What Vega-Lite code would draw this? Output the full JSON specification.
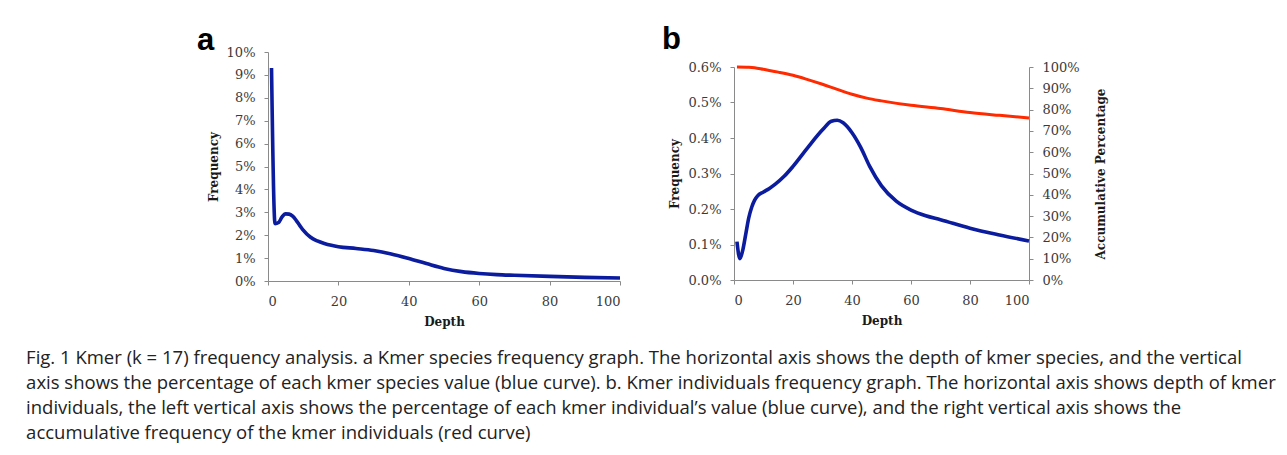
{
  "$schema": "https://vega.github.io/schema/vega-lite/v6.json",
  "background": "white",
  "padding": {"left": 26, "top": 24, "right": 5, "bottom": 5},
  "config": {
    "view": {"stroke": null},
    "axis": {
      "grid": false,
      "domainColor": "#8a8a8a",
      "tickColor": "#8a8a8a",
      "tickSize": 4,
      "labelFont": "DejaVu Serif",
      "labelFontSize": 13,
      "labelColor": "#3a3a3a",
      "titleFont": "DejaVu Serif",
      "titleFontSize": 12,
      "titleFontWeight": "bold",
      "titleColor": "#1a1a1a"
    }
  },
  "title": {
    "text": [
      "Fig. 1 Kmer (k = 17) frequency analysis. a Kmer species frequency graph. The horizontal axis shows the depth of kmer species, and the vertical",
      "axis shows the percentage of each kmer species value (blue curve). b. Kmer individuals frequency graph. The horizontal axis shows depth of kmer",
      "individuals, the left vertical axis shows the percentage of each kmer individual’s value (blue curve), and the right vertical axis shows the",
      "accumulative frequency of the kmer individuals (red curve)"
    ],
    "orient": "bottom",
    "anchor": "start",
    "frame": "bounds",
    "font": "Open Sans",
    "fontSize": 18.5,
    "fontWeight": "normal",
    "lineHeight": 25,
    "color": "#222222",
    "dx": -171,
    "offset": 22
  },
  "spacing": 34,
  "hconcat": [
    {
      "title": {"text": "a", "anchor": "start", "frame": "bounds", "font": "Liberation Sans", "fontSize": 31, "fontWeight": "bold", "color": "#000000", "baseline": "alphabetic", "offset": -35, "dx": -10},
      "width": 352,
      "height": 229,
      "data": {"values": [
        {"depth": 1, "freq": 0.093},
        {"depth": 2, "freq": 0.025},
        {"depth": 3, "freq": 0.0255},
        {"depth": 4, "freq": 0.028},
        {"depth": 5, "freq": 0.0293},
        {"depth": 6, "freq": 0.0292},
        {"depth": 7, "freq": 0.0283},
        {"depth": 8, "freq": 0.0265},
        {"depth": 9, "freq": 0.0243},
        {"depth": 10, "freq": 0.0222},
        {"depth": 12, "freq": 0.0192},
        {"depth": 14, "freq": 0.0175},
        {"depth": 16, "freq": 0.0164},
        {"depth": 18, "freq": 0.0156},
        {"depth": 20, "freq": 0.015},
        {"depth": 25, "freq": 0.0142},
        {"depth": 30, "freq": 0.0133},
        {"depth": 35, "freq": 0.0118},
        {"depth": 40, "freq": 0.0098},
        {"depth": 45, "freq": 0.0076},
        {"depth": 50, "freq": 0.0055},
        {"depth": 55, "freq": 0.0041},
        {"depth": 60, "freq": 0.0033},
        {"depth": 65, "freq": 0.0028},
        {"depth": 70, "freq": 0.0025},
        {"depth": 80, "freq": 0.002},
        {"depth": 90, "freq": 0.0016},
        {"depth": 100, "freq": 0.0013}
      ]},
      "mark": {"type": "line", "interpolate": "monotone", "color": "#0b1c9e", "strokeWidth": 3.6},
      "encoding": {
        "x": {"field": "depth", "type": "quantitative", "title": "Depth",
              "scale": {"domain": [0, 100], "nice": false},
              "axis": {"values": [0, 20, 40, 60, 80, 100], "labelPadding": 10, "titlePadding": 8}},
        "y": {"field": "freq", "type": "quantitative", "title": "Frequency",
              "scale": {"domain": [0, 0.1], "nice": false},
              "axis": {"values": [0, 0.01, 0.02, 0.03, 0.04, 0.05, 0.06, 0.07, 0.08, 0.09, 0.1], "format": ".0%", "labelPadding": 9, "titlePadding": 6}}
      }
    },
    {
      "spacing": 0,
      "vconcat": [
        {
          "title": {"text": "b", "anchor": "start", "frame": "bounds", "font": "Liberation Sans", "fontSize": 31, "fontWeight": "bold", "color": "#000000", "baseline": "alphabetic", "offset": -28, "dx": -72},
          "width": 295,
          "height": 9,
          "data": {"values": []},
          "mark": {"type": "point", "opacity": 0},
          "encoding": {}
        },
        {
          "width": 295,
          "height": 213,
          "data": {"values": [
            {"depth": 1, "freq": 0.00108, "acc": 1.0},
            {"depth": 2, "freq": 0.0006},
            {"depth": 3, "freq": 0.00085},
            {"depth": 4, "freq": 0.0013},
            {"depth": 5, "freq": 0.00175, "acc": 0.999},
            {"depth": 6, "freq": 0.00205},
            {"depth": 7, "freq": 0.00225, "acc": 0.997},
            {"depth": 8, "freq": 0.00237},
            {"depth": 10, "freq": 0.00248, "acc": 0.989},
            {"depth": 12, "freq": 0.00258},
            {"depth": 14, "freq": 0.0027},
            {"depth": 15, "acc": 0.976},
            {"depth": 17, "freq": 0.00292},
            {"depth": 20, "freq": 0.0032, "acc": 0.961},
            {"depth": 25, "freq": 0.00373, "acc": 0.941},
            {"depth": 30, "freq": 0.00423, "acc": 0.919},
            {"depth": 33, "freq": 0.00447},
            {"depth": 35, "freq": 0.0045, "acc": 0.895},
            {"depth": 37, "freq": 0.00443},
            {"depth": 40, "freq": 0.00415, "acc": 0.872},
            {"depth": 43, "freq": 0.00373},
            {"depth": 45, "acc": 0.854},
            {"depth": 46, "freq": 0.0032},
            {"depth": 50, "freq": 0.00265, "acc": 0.841},
            {"depth": 55, "freq": 0.00222},
            {"depth": 60, "freq": 0.00197, "acc": 0.82},
            {"depth": 65, "freq": 0.00181},
            {"depth": 70, "freq": 0.0017, "acc": 0.805},
            {"depth": 80, "freq": 0.00146, "acc": 0.786},
            {"depth": 90, "freq": 0.00127, "acc": 0.773},
            {"depth": 100, "freq": 0.0011, "acc": 0.761}
          ]},
          "encoding": {
            "x": {"field": "depth", "type": "quantitative", "title": "Depth",
                  "scale": {"domain": [0, 100], "nice": false},
                  "axis": {"values": [0, 20, 40, 60, 80, 100], "labelPadding": 10, "titlePadding": 8}}
          },
          "layer": [
            {
              "transform": [{"filter": "isValid(datum.freq)"}],
              "mark": {"type": "line", "interpolate": "monotone", "color": "#0b1c9e", "strokeWidth": 3.6},
              "encoding": {
                "y": {"field": "freq", "type": "quantitative", "title": "Frequency",
                      "scale": {"domain": [0, 0.006], "nice": false},
                      "axis": {"values": [0, 0.001, 0.002, 0.003, 0.004, 0.005, 0.006], "format": ".1%", "labelPadding": 9, "titlePadding": 6}}
              }
            },
            {
              "transform": [{"filter": "isValid(datum.acc)"}],
              "mark": {"type": "line", "interpolate": "monotone", "color": "#ff2a00", "strokeWidth": 3},
              "encoding": {
                "y": {"field": "acc", "type": "quantitative", "title": "Accumulative Percentage",
                      "scale": {"domain": [0, 1], "nice": false},
                      "axis": {"orient": "right", "values": [0, 0.1, 0.2, 0.3, 0.4, 0.5, 0.6, 0.7, 0.8, 0.9, 1], "format": ".0%", "labelPadding": 9, "titlePadding": 28, "titleAngle": 270}}
              }
            }
          ],
          "resolve": {"scale": {"y": "independent"}}
        }
      ]
    }
  ]
}
